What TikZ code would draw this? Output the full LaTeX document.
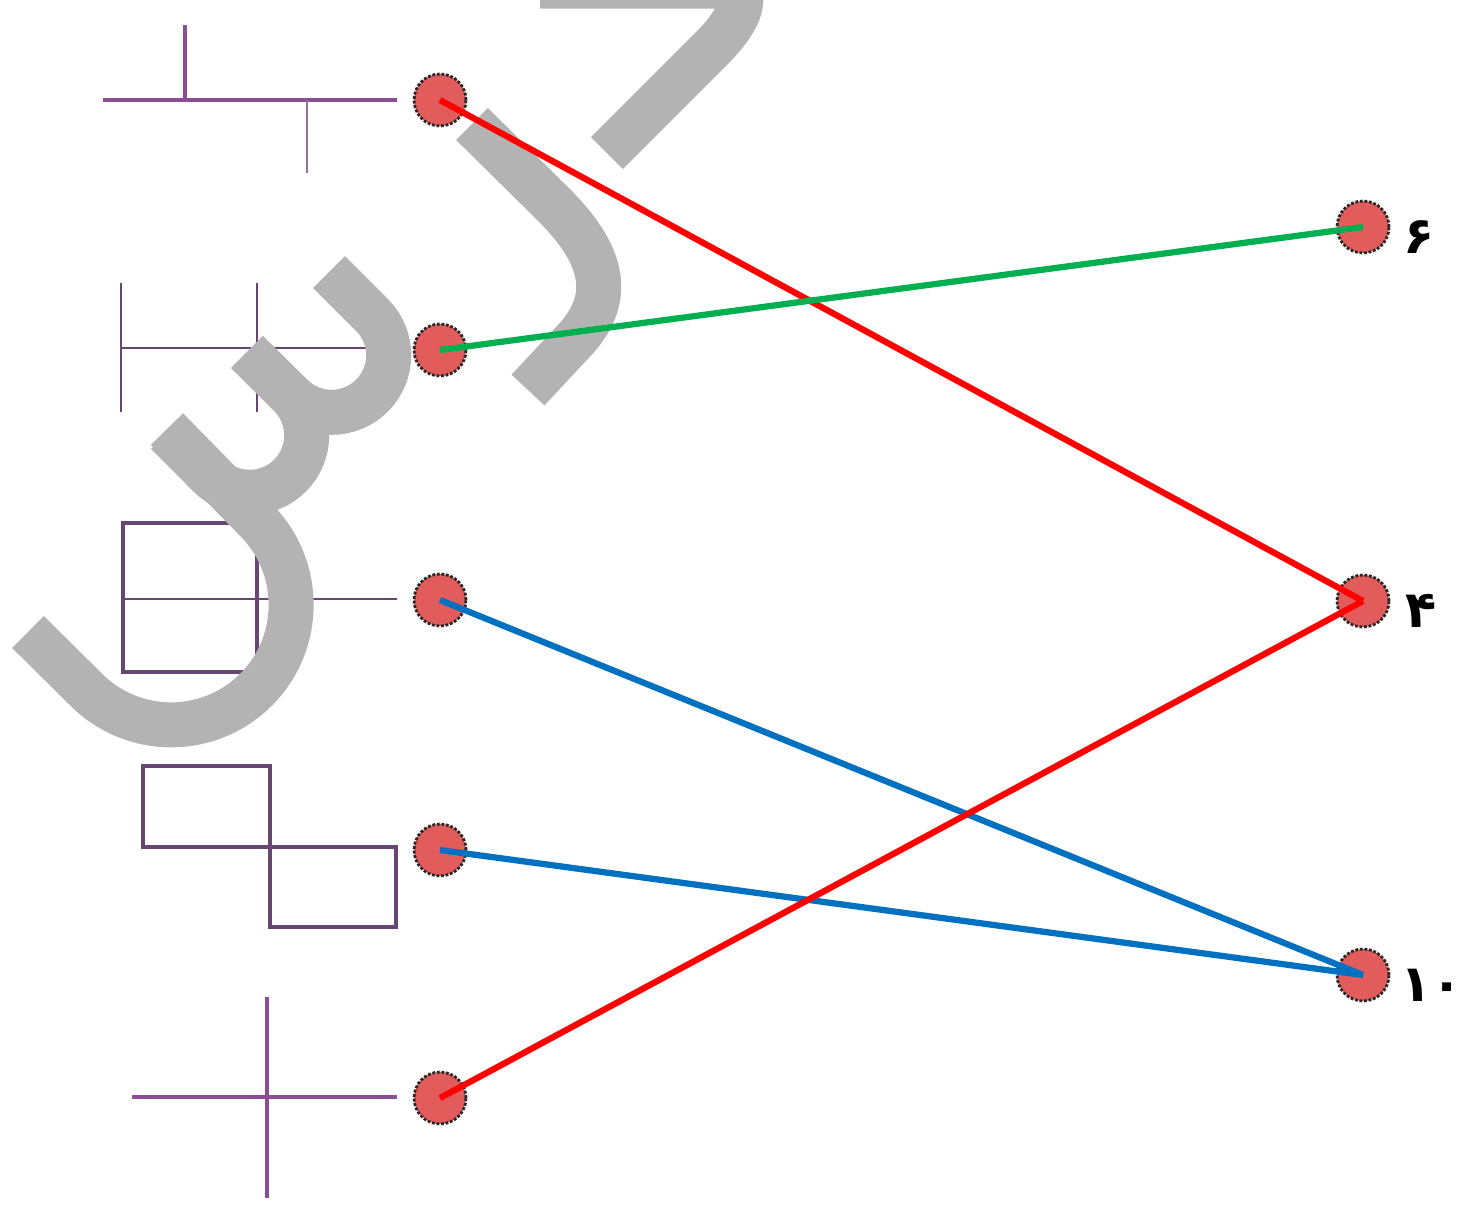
\documentclass[tikz,border=0pt]{standalone}
\usepackage{fontspec}
\newfontfamily\arabicfont[Script=Arabic]{DejaVu Sans}
\TeXXeTstate=1
\usetikzlibrary{positioning}
\definecolor{figpurple}{RGB}{138,78,148}
\definecolor{figdark}{RGB}{104,70,114}
\definecolor{markgray}{RGB}{179,179,179}
\definecolor{dotred}{RGB}{226,92,92}
\definecolor{linered}{RGB}{255,0,0}
\definecolor{linegreen}{RGB}{0,176,80}
\definecolor{lineblue}{RGB}{0,112,192}
\tikzset{
  shape line/.style={draw=figpurple, line width=0.09cm},
  thin shape/.style={draw=figdark, line width=0.055cm},
  mark stroke/.style={draw=markgray, line width=0.9cm},
  joindot/.style={circle, fill=dotred, draw=black!85, densely dotted, line width=1.6pt,
    minimum size=1.04cm, inner sep=0pt},
  pairline/.style={line width=0.125cm},
  numlbl/.style={font=\arabicfont\bfseries\fontsize{29}{32}\selectfont, inner sep=0pt, yshift=-0.2cm}
}

\begin{document}
\begin{tikzpicture}[x=0.02cm, y=-0.02cm]
    \useasboundingbox (0,0) rectangle (1472,1211);
    %\draw[help lines] (0,0) grid[step=100] (1472,1211);
    % the five figures
    \draw[shape line] (103,100) -- (397,100) (185,25) -- (185,100);
    \draw[thin shape, draw=figdark!75] (307,100) -- (307,173);
    \draw[thin shape] (120,348) -- (397,348)
        (121,283) -- (121,412) (257,283) -- (257,412);
    \draw[shape line, draw=figdark] (123,523) rectangle (257,672);
    \draw[thin shape] (123,599) -- (397,599);
    \draw[shape line, draw=figdark] (143,766) rectangle (270,847)
        (270,847) rectangle (396,927);
    \draw[shape line] (132,1097) -- (397,1097) (267,997) -- (267,1198);
    % watermark
    \draw[mark stroke] (607,153) -- (712,48) .. controls (745,15) and (752,-14) .. (720,-14) -- (540,-14);
    \draw[mark stroke] (472,124) -- (552,203) .. controls (612,262) and (610,305) .. (570,345) -- (528,390);
    \draw[mark stroke] (329,272) -- (372,315) arc[start angle=-45, end angle=135, radius=57] -- (247,352);
    \draw[mark stroke] (247,352) -- (290,395) arc[start angle=-45, end angle=135, radius=57] -- (167,433);
    \draw[mark stroke] (167,429) -- (256,520) arc[start angle=-45, end angle=135, radius=120] -- (28,632);
    % dots
    \node[joindot] (a1) at (440,100) {};
    \node[joindot] (a2) at (440,350) {};
    \node[joindot] (a3) at (440,600) {};
    \node[joindot] (a4) at (440,850) {};
    \node[joindot] (a5) at (440,1098) {};
    \node[joindot] (b6) at (1363,227) {};
    \node[joindot] (b4) at (1363,601) {};
    \node[joindot] (b10) at (1363,975) {};
    \node[numlbl, right=0.26cm of b6] (t6) {۶};
    \node[numlbl, right=0.3cm of b4] (t4) {۴};
    \node[numlbl, right=0.2cm of b10] (t10) {۱۰};
    % matching lines
    \draw[pairline, linered] (a1.center) -- (b4.center);
    \draw[pairline, linegreen] (a2.center) -- (b6.center);
    \draw[pairline, lineblue] (a3.center) -- (b10.center);
    \draw[pairline, lineblue] (a4.center) -- (b10.center);
    \draw[pairline, linered] (a5.center) -- (b4.center);
\end{tikzpicture}
\end{document}
